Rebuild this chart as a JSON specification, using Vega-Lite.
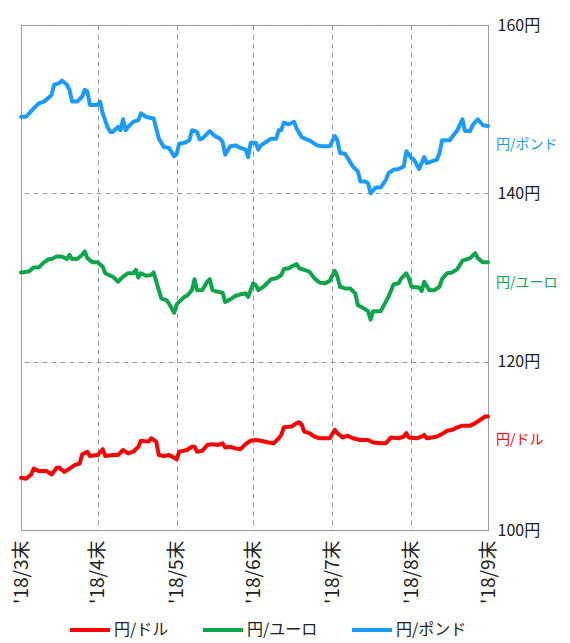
{
  "$schema": "https://vega.github.io/schema/vega-lite/v6.json",
  "width": 467,
  "height": 505,
  "autosize": "none",
  "padding": {"left": 21, "top": 25, "right": 82, "bottom": 113},
  "config": {
    "font": "Noto Sans CJK JP",
    "view": {"stroke": "#a0a0a0", "strokeWidth": 1},
    "axis": {"gridColor": "#999999", "gridDash": [5, 4], "gridWidth": 1, "domain": false, "ticks": false, "labelColor": "#222222", "labelFontSize": 16, "title": null}
  },
  "datasets": {
    "fx": [
      {"series":"円/ポンド","date":"2018-03-31","rate":149.1},{"series":"円/ポンド","date":"2018-04-02","rate":149.1},{"series":"円/ポンド","date":"2018-04-05","rate":150.1},{"series":"円/ポンド","date":"2018-04-07","rate":150.7},{"series":"円/ポンド","date":"2018-04-09","rate":150.9},{"series":"円/ポンド","date":"2018-04-11","rate":151.4},{"series":"円/ポンド","date":"2018-04-12","rate":151.7},{"series":"円/ポンド","date":"2018-04-13","rate":152.9},{"series":"円/ポンド","date":"2018-04-15","rate":153.1},{"series":"円/ポンド","date":"2018-04-16","rate":153.4},{"series":"円/ポンド","date":"2018-04-18","rate":152.9},{"series":"円/ポンド","date":"2018-04-19","rate":152.3},{"series":"円/ポンド","date":"2018-04-20","rate":150.9},{"series":"円/ポンド","date":"2018-04-22","rate":150.9},{"series":"円/ポンド","date":"2018-04-24","rate":151.5},{"series":"円/ポンド","date":"2018-04-25","rate":152.3},{"series":"円/ポンド","date":"2018-04-26","rate":152.1},{"series":"円/ポンド","date":"2018-04-27","rate":150.5},{"series":"円/ポンド","date":"2018-04-30","rate":150.5},{"series":"円/ポンド","date":"2018-05-01","rate":150.9},{"series":"円/ポンド","date":"2018-05-02","rate":149.5},{"series":"円/ポンド","date":"2018-05-04","rate":147.8},{"series":"円/ポンド","date":"2018-05-05","rate":147.3},{"series":"円/ポンド","date":"2018-05-06","rate":147.3},{"series":"円/ポンド","date":"2018-05-08","rate":147.9},{"series":"円/ポンド","date":"2018-05-09","rate":147.5},{"series":"円/ポンド","date":"2018-05-10","rate":148.8},{"series":"円/ポンド","date":"2018-05-11","rate":147.5},{"series":"円/ポンド","date":"2018-05-12","rate":147.9},{"series":"円/ポンド","date":"2018-05-14","rate":148.5},{"series":"円/ポンド","date":"2018-05-16","rate":148.7},{"series":"円/ポンド","date":"2018-05-17","rate":149.5},{"series":"円/ポンド","date":"2018-05-19","rate":149.1},{"series":"円/ポンド","date":"2018-05-20","rate":149.0},{"series":"円/ポンド","date":"2018-05-22","rate":148.9},{"series":"円/ポンド","date":"2018-05-24","rate":146.5},{"series":"円/ポンド","date":"2018-05-26","rate":145.5},{"series":"円/ポンド","date":"2018-05-28","rate":145.4},{"series":"円/ポンド","date":"2018-05-30","rate":144.4},{"series":"円/ポンド","date":"2018-05-31","rate":144.7},{"series":"円/ポンド","date":"2018-06-01","rate":145.9},{"series":"円/ポンド","date":"2018-06-03","rate":146.0},{"series":"円/ポンド","date":"2018-06-05","rate":146.3},{"series":"円/ポンド","date":"2018-06-06","rate":147.5},{"series":"円/ポンド","date":"2018-06-08","rate":147.3},{"series":"円/ポンド","date":"2018-06-09","rate":146.4},{"series":"円/ポンド","date":"2018-06-10","rate":146.5},{"series":"円/ポンド","date":"2018-06-12","rate":147.1},{"series":"円/ポンド","date":"2018-06-13","rate":147.4},{"series":"円/ポンド","date":"2018-06-15","rate":146.8},{"series":"円/ポンド","date":"2018-06-17","rate":146.5},{"series":"円/ポンド","date":"2018-06-18","rate":146.1},{"series":"円/ポンド","date":"2018-06-19","rate":144.6},{"series":"円/ポンド","date":"2018-06-21","rate":145.6},{"series":"円/ポンド","date":"2018-06-23","rate":145.7},{"series":"円/ポンド","date":"2018-06-25","rate":145.4},{"series":"円/ポンド","date":"2018-06-27","rate":145.2},{"series":"円/ポンド","date":"2018-06-28","rate":144.3},{"series":"円/ポンド","date":"2018-06-29","rate":146.0},{"series":"円/ポンド","date":"2018-07-01","rate":146.0},{"series":"円/ポンド","date":"2018-07-02","rate":145.2},{"series":"円/ポンド","date":"2018-07-03","rate":145.7},{"series":"円/ポンド","date":"2018-07-05","rate":146.1},{"series":"円/ポンド","date":"2018-07-07","rate":146.5},{"series":"円/ポンド","date":"2018-07-09","rate":146.5},{"series":"円/ポンド","date":"2018-07-10","rate":147.5},{"series":"円/ポンド","date":"2018-07-11","rate":147.5},{"series":"円/ポンド","date":"2018-07-12","rate":148.4},{"series":"円/ポンド","date":"2018-07-14","rate":148.2},{"series":"円/ポンド","date":"2018-07-16","rate":148.5},{"series":"円/ポンド","date":"2018-07-17","rate":147.7},{"series":"円/ポンド","date":"2018-07-19","rate":146.7},{"series":"円/ポンド","date":"2018-07-21","rate":146.4},{"series":"円/ポンド","date":"2018-07-22","rate":146.3},{"series":"円/ポンド","date":"2018-07-24","rate":145.9},{"series":"円/ポンド","date":"2018-07-25","rate":145.7},{"series":"円/ポンド","date":"2018-07-27","rate":145.6},{"series":"円/ポンド","date":"2018-07-30","rate":145.6},{"series":"円/ポンド","date":"2018-08-01","rate":146.8},{"series":"円/ポンド","date":"2018-08-02","rate":146.3},{"series":"円/ポンド","date":"2018-08-03","rate":144.8},{"series":"円/ポンド","date":"2018-08-05","rate":144.7},{"series":"円/ポンド","date":"2018-08-06","rate":144.2},{"series":"円/ポンド","date":"2018-08-08","rate":143.2},{"series":"円/ポンド","date":"2018-08-10","rate":142.6},{"series":"円/ポンド","date":"2018-08-11","rate":141.4},{"series":"円/ポンド","date":"2018-08-13","rate":141.4},{"series":"円/ポンド","date":"2018-08-14","rate":141.2},{"series":"円/ポンド","date":"2018-08-15","rate":140.0},{"series":"円/ポンド","date":"2018-08-17","rate":140.7},{"series":"円/ポンド","date":"2018-08-19","rate":140.7},{"series":"円/ポンド","date":"2018-08-21","rate":141.6},{"series":"円/ポンド","date":"2018-08-22","rate":142.4},{"series":"円/ポンド","date":"2018-08-24","rate":142.8},{"series":"円/ポンド","date":"2018-08-26","rate":142.9},{"series":"円/ポンド","date":"2018-08-28","rate":143.2},{"series":"円/ポンド","date":"2018-08-29","rate":145.0},{"series":"円/ポンド","date":"2018-08-31","rate":144.2},{"series":"円/ポンド","date":"2018-09-01","rate":144.0},{"series":"円/ポンド","date":"2018-09-03","rate":142.9},{"series":"円/ポンド","date":"2018-09-05","rate":144.3},{"series":"円/ポンド","date":"2018-09-06","rate":143.6},{"series":"円/ポンド","date":"2018-09-08","rate":143.8},{"series":"円/ポンド","date":"2018-09-10","rate":144.0},{"series":"円/ポンド","date":"2018-09-11","rate":144.8},{"series":"円/ポンド","date":"2018-09-12","rate":146.3},{"series":"円/ポンド","date":"2018-09-15","rate":146.3},{"series":"円/ポンド","date":"2018-09-17","rate":147.1},{"series":"円/ポンド","date":"2018-09-18","rate":147.5},{"series":"円/ポンド","date":"2018-09-20","rate":148.8},{"series":"円/ポンド","date":"2018-09-21","rate":147.4},{"series":"円/ポンド","date":"2018-09-23","rate":147.4},{"series":"円/ポンド","date":"2018-09-24","rate":148.1},{"series":"円/ポンド","date":"2018-09-26","rate":148.8},{"series":"円/ポンド","date":"2018-09-28","rate":148.1},{"series":"円/ポンド","date":"2018-09-30","rate":148.0},
      {"series":"円/ユーロ","date":"2018-03-31","rate":130.6},{"series":"円/ユーロ","date":"2018-04-03","rate":130.7},{"series":"円/ユーロ","date":"2018-04-05","rate":131.2},{"series":"円/ユーロ","date":"2018-04-07","rate":131.2},{"series":"円/ユーロ","date":"2018-04-09","rate":131.8},{"series":"円/ユーロ","date":"2018-04-11","rate":132.2},{"series":"円/ユーロ","date":"2018-04-12","rate":132.2},{"series":"円/ユーロ","date":"2018-04-14","rate":132.5},{"series":"円/ユーロ","date":"2018-04-16","rate":132.5},{"series":"円/ユーロ","date":"2018-04-18","rate":132.2},{"series":"円/ユーロ","date":"2018-04-19","rate":132.7},{"series":"円/ユーロ","date":"2018-04-20","rate":132.2},{"series":"円/ユーロ","date":"2018-04-22","rate":132.2},{"series":"円/ユーロ","date":"2018-04-24","rate":132.7},{"series":"円/ユーロ","date":"2018-04-25","rate":133.1},{"series":"円/ユーロ","date":"2018-04-26","rate":132.3},{"series":"円/ユーロ","date":"2018-04-28","rate":131.8},{"series":"円/ユーロ","date":"2018-04-30","rate":131.8},{"series":"円/ユーロ","date":"2018-05-02","rate":131.3},{"series":"円/ユーロ","date":"2018-05-03","rate":130.5},{"series":"円/ユーロ","date":"2018-05-05","rate":130.2},{"series":"円/ユーロ","date":"2018-05-06","rate":130.1},{"series":"円/ユーロ","date":"2018-05-08","rate":129.5},{"series":"円/ユーロ","date":"2018-05-10","rate":130.1},{"series":"円/ユーロ","date":"2018-05-12","rate":130.5},{"series":"円/ユーロ","date":"2018-05-14","rate":130.5},{"series":"円/ユーロ","date":"2018-05-15","rate":130.9},{"series":"円/ユーロ","date":"2018-05-16","rate":130.0},{"series":"円/ユーロ","date":"2018-05-17","rate":130.5},{"series":"円/ユーロ","date":"2018-05-19","rate":130.2},{"series":"円/ユーロ","date":"2018-05-21","rate":130.3},{"series":"円/ユーロ","date":"2018-05-22","rate":130.6},{"series":"円/ユーロ","date":"2018-05-24","rate":128.5},{"series":"円/ユーロ","date":"2018-05-25","rate":127.5},{"series":"円/ユーロ","date":"2018-05-27","rate":127.3},{"series":"円/ユーロ","date":"2018-05-28","rate":126.9},{"series":"円/ユーロ","date":"2018-05-30","rate":125.8},{"series":"円/ユーロ","date":"2018-05-31","rate":126.8},{"series":"円/ユーロ","date":"2018-06-03","rate":127.7},{"series":"円/ユーロ","date":"2018-06-04","rate":127.8},{"series":"円/ユーロ","date":"2018-06-06","rate":128.5},{"series":"円/ユーロ","date":"2018-06-07","rate":129.8},{"series":"円/ユーロ","date":"2018-06-08","rate":128.5},{"series":"円/ユーロ","date":"2018-06-10","rate":128.5},{"series":"円/ユーロ","date":"2018-06-12","rate":129.5},{"series":"円/ユーロ","date":"2018-06-13","rate":129.8},{"series":"円/ユーロ","date":"2018-06-14","rate":128.5},{"series":"円/ユーロ","date":"2018-06-16","rate":128.3},{"series":"円/ユーロ","date":"2018-06-18","rate":128.2},{"series":"円/ユーロ","date":"2018-06-19","rate":127.1},{"series":"円/ユーロ","date":"2018-06-21","rate":127.4},{"series":"円/ユーロ","date":"2018-06-23","rate":127.8},{"series":"円/ユーロ","date":"2018-06-25","rate":128.0},{"series":"円/ユーロ","date":"2018-06-27","rate":128.1},{"series":"円/ユーロ","date":"2018-06-28","rate":127.7},{"series":"円/ユーロ","date":"2018-06-30","rate":129.3},{"series":"円/ユーロ","date":"2018-07-01","rate":129.1},{"series":"円/ユーロ","date":"2018-07-02","rate":128.5},{"series":"円/ユーロ","date":"2018-07-04","rate":128.9},{"series":"円/ユーロ","date":"2018-07-06","rate":129.5},{"series":"円/ユーロ","date":"2018-07-07","rate":129.8},{"series":"円/ユーロ","date":"2018-07-09","rate":129.9},{"series":"円/ユーロ","date":"2018-07-11","rate":130.3},{"series":"円/ユーロ","date":"2018-07-12","rate":131.0},{"series":"円/ユーロ","date":"2018-07-14","rate":131.1},{"series":"円/ユーロ","date":"2018-07-15","rate":131.3},{"series":"円/ユーロ","date":"2018-07-17","rate":131.6},{"series":"円/ユーロ","date":"2018-07-18","rate":131.1},{"series":"円/ユーロ","date":"2018-07-20","rate":130.9},{"series":"円/ユーロ","date":"2018-07-22","rate":130.7},{"series":"円/ユーロ","date":"2018-07-24","rate":129.9},{"series":"円/ユーロ","date":"2018-07-26","rate":129.4},{"series":"円/ユーロ","date":"2018-07-28","rate":129.3},{"series":"円/ユーロ","date":"2018-07-30","rate":129.6},{"series":"円/ユーロ","date":"2018-08-01","rate":130.8},{"series":"円/ユーロ","date":"2018-08-02","rate":130.1},{"series":"円/ユーロ","date":"2018-08-03","rate":128.9},{"series":"円/ユーロ","date":"2018-08-05","rate":128.7},{"series":"円/ユーロ","date":"2018-08-07","rate":128.7},{"series":"円/ユーロ","date":"2018-08-09","rate":128.1},{"series":"円/ユーロ","date":"2018-08-10","rate":126.7},{"series":"円/ユーロ","date":"2018-08-12","rate":126.4},{"series":"円/ユーロ","date":"2018-08-14","rate":126.0},{"series":"円/ユーロ","date":"2018-08-15","rate":125.0},{"series":"円/ユーロ","date":"2018-08-16","rate":126.0},{"series":"円/ユーロ","date":"2018-08-19","rate":126.0},{"series":"円/ユーロ","date":"2018-08-20","rate":126.6},{"series":"円/ユーロ","date":"2018-08-22","rate":127.7},{"series":"円/ユーロ","date":"2018-08-24","rate":129.2},{"series":"円/ユーロ","date":"2018-08-26","rate":129.3},{"series":"円/ユーロ","date":"2018-08-27","rate":129.9},{"series":"円/ユーロ","date":"2018-08-29","rate":130.5},{"series":"円/ユーロ","date":"2018-08-30","rate":129.9},{"series":"円/ユーロ","date":"2018-08-31","rate":128.9},{"series":"円/ユーロ","date":"2018-09-03","rate":128.8},{"series":"円/ユーロ","date":"2018-09-04","rate":128.4},{"series":"円/ユーロ","date":"2018-09-05","rate":129.5},{"series":"円/ユーロ","date":"2018-09-07","rate":128.5},{"series":"円/ユーロ","date":"2018-09-09","rate":128.5},{"series":"円/ユーロ","date":"2018-09-11","rate":128.9},{"series":"円/ユーロ","date":"2018-09-12","rate":129.8},{"series":"円/ユーロ","date":"2018-09-14","rate":130.5},{"series":"円/ユーロ","date":"2018-09-16","rate":130.6},{"series":"円/ユーロ","date":"2018-09-18","rate":131.0},{"series":"円/ユーロ","date":"2018-09-19","rate":131.5},{"series":"円/ユーロ","date":"2018-09-20","rate":132.0},{"series":"円/ユーロ","date":"2018-09-22","rate":132.2},{"series":"円/ユーロ","date":"2018-09-23","rate":132.3},{"series":"円/ユーロ","date":"2018-09-25","rate":132.9},{"series":"円/ユーロ","date":"2018-09-26","rate":132.3},{"series":"円/ユーロ","date":"2018-09-28","rate":131.8},{"series":"円/ユーロ","date":"2018-09-30","rate":131.8},
      {"series":"円/ドル","date":"2018-03-31","rate":106.2},{"series":"円/ドル","date":"2018-04-02","rate":106.1},{"series":"円/ドル","date":"2018-04-04","rate":106.6},{"series":"円/ドル","date":"2018-04-05","rate":107.3},{"series":"円/ドル","date":"2018-04-07","rate":107.0},{"series":"円/ドル","date":"2018-04-10","rate":107.0},{"series":"円/ドル","date":"2018-04-12","rate":106.6},{"series":"円/ドル","date":"2018-04-14","rate":107.4},{"series":"円/ドル","date":"2018-04-15","rate":107.4},{"series":"円/ドル","date":"2018-04-17","rate":106.9},{"series":"円/ドル","date":"2018-04-19","rate":107.3},{"series":"円/ドル","date":"2018-04-21","rate":107.7},{"series":"円/ドル","date":"2018-04-23","rate":107.9},{"series":"円/ドル","date":"2018-04-24","rate":109.0},{"series":"円/ドル","date":"2018-04-26","rate":109.3},{"series":"円/ドル","date":"2018-04-27","rate":108.8},{"series":"円/ドル","date":"2018-04-30","rate":108.9},{"series":"円/ドル","date":"2018-05-02","rate":109.6},{"series":"円/ドル","date":"2018-05-03","rate":108.8},{"series":"円/ドル","date":"2018-05-06","rate":108.9},{"series":"円/ドル","date":"2018-05-08","rate":108.9},{"series":"円/ドル","date":"2018-05-10","rate":109.5},{"series":"円/ドル","date":"2018-05-12","rate":109.1},{"series":"円/ドル","date":"2018-05-14","rate":109.3},{"series":"円/ドル","date":"2018-05-16","rate":109.9},{"series":"円/ドル","date":"2018-05-17","rate":110.6},{"series":"円/ドル","date":"2018-05-20","rate":110.5},{"series":"円/ドル","date":"2018-05-21","rate":110.9},{"series":"円/ドル","date":"2018-05-23","rate":110.5},{"series":"円/ドル","date":"2018-05-24","rate":108.9},{"series":"円/ドル","date":"2018-05-26","rate":108.8},{"series":"円/ドル","date":"2018-05-28","rate":108.9},{"series":"円/ドル","date":"2018-05-30","rate":108.6},{"series":"円/ドル","date":"2018-05-31","rate":108.4},{"series":"円/ドル","date":"2018-06-01","rate":109.3},{"series":"円/ドル","date":"2018-06-04","rate":109.5},{"series":"円/ドル","date":"2018-06-06","rate":109.9},{"series":"円/ドル","date":"2018-06-07","rate":109.9},{"series":"円/ドル","date":"2018-06-08","rate":109.3},{"series":"円/ドル","date":"2018-06-10","rate":109.4},{"series":"円/ドル","date":"2018-06-12","rate":110.1},{"series":"円/ドル","date":"2018-06-14","rate":110.2},{"series":"円/ドル","date":"2018-06-16","rate":110.1},{"series":"円/ドル","date":"2018-06-18","rate":110.3},{"series":"円/ドル","date":"2018-06-19","rate":109.8},{"series":"円/ドル","date":"2018-06-21","rate":109.9},{"series":"円/ドル","date":"2018-06-23","rate":109.7},{"series":"円/ドル","date":"2018-06-25","rate":109.6},{"series":"円/ドル","date":"2018-06-27","rate":110.2},{"series":"円/ドル","date":"2018-06-29","rate":110.6},{"series":"円/ドル","date":"2018-07-01","rate":110.7},{"series":"円/ドル","date":"2018-07-03","rate":110.6},{"series":"円/ドル","date":"2018-07-06","rate":110.4},{"series":"円/ドル","date":"2018-07-08","rate":110.3},{"series":"円/ドル","date":"2018-07-10","rate":110.9},{"series":"円/ドル","date":"2018-07-11","rate":111.3},{"series":"円/ドル","date":"2018-07-12","rate":112.2},{"series":"円/ドル","date":"2018-07-15","rate":112.3},{"series":"円/ドル","date":"2018-07-17","rate":112.7},{"series":"円/ドル","date":"2018-07-18","rate":112.8},{"series":"円/ドル","date":"2018-07-19","rate":112.5},{"series":"円/ドル","date":"2018-07-20","rate":111.7},{"series":"円/ドル","date":"2018-07-22","rate":111.5},{"series":"円/ドル","date":"2018-07-24","rate":111.1},{"series":"円/ドル","date":"2018-07-26","rate":110.9},{"series":"円/ドル","date":"2018-07-28","rate":110.9},{"series":"円/ドル","date":"2018-07-30","rate":110.9},{"series":"円/ドル","date":"2018-08-01","rate":111.9},{"series":"円/ドル","date":"2018-08-02","rate":111.5},{"series":"円/ドル","date":"2018-08-04","rate":111.0},{"series":"円/ドル","date":"2018-08-06","rate":111.2},{"series":"円/ドル","date":"2018-08-08","rate":110.9},{"series":"円/ドル","date":"2018-08-11","rate":110.7},{"series":"円/ドル","date":"2018-08-14","rate":110.7},{"series":"円/ドル","date":"2018-08-16","rate":110.4},{"series":"円/ドル","date":"2018-08-19","rate":110.3},{"series":"円/ドル","date":"2018-08-21","rate":110.3},{"series":"円/ドル","date":"2018-08-23","rate":111.0},{"series":"円/ドル","date":"2018-08-26","rate":110.9},{"series":"円/ドル","date":"2018-08-28","rate":111.1},{"series":"円/ドル","date":"2018-08-29","rate":111.5},{"series":"円/ドル","date":"2018-08-30","rate":111.0},{"series":"円/ドル","date":"2018-09-02","rate":110.9},{"series":"円/ドル","date":"2018-09-04","rate":111.1},{"series":"円/ドル","date":"2018-09-05","rate":111.3},{"series":"円/ドル","date":"2018-09-06","rate":110.9},{"series":"円/ドル","date":"2018-09-08","rate":111.0},{"series":"円/ドル","date":"2018-09-10","rate":111.1},{"series":"円/ドル","date":"2018-09-12","rate":111.4},{"series":"円/ドル","date":"2018-09-14","rate":111.8},{"series":"円/ドル","date":"2018-09-16","rate":111.9},{"series":"円/ドル","date":"2018-09-18","rate":112.2},{"series":"円/ドル","date":"2018-09-20","rate":112.4},{"series":"円/ドル","date":"2018-09-23","rate":112.4},{"series":"円/ドル","date":"2018-09-25","rate":112.7},{"series":"円/ドル","date":"2018-09-27","rate":113.1},{"series":"円/ドル","date":"2018-09-29","rate":113.5},{"series":"円/ドル","date":"2018-09-30","rate":113.5}
    ],
    "labels": [
      {"series":"円/ポンド","date":"2018-09-30","rate":145.7},
      {"series":"円/ユーロ","date":"2018-09-30","rate":129.3},
      {"series":"円/ドル","date":"2018-09-30","rate":110.7}
    ]
  },
  "layer": [
    {
      "data": {"name": "fx"},
      "mark": {"type": "line", "strokeWidth": 4, "strokeJoin": "round", "strokeCap": "round"},
      "encoding": {
        "x": {
          "field": "date", "type": "temporal",
          "scale": {"type": "utc", "domain": [{"year": 2018, "month": 3, "date": 31, "utc": true}, {"year": 2018, "month": 9, "date": 30, "utc": true}]},
          "axis": {
            "values": [
              {"year": 2018, "month": 3, "date": 31, "utc": true},
              {"year": 2018, "month": 4, "date": 30, "utc": true},
              {"year": 2018, "month": 5, "date": 31, "utc": true},
              {"year": 2018, "month": 6, "date": 30, "utc": true},
              {"year": 2018, "month": 7, "date": 31, "utc": true},
              {"year": 2018, "month": 8, "date": 31, "utc": true},
              {"year": 2018, "month": 9, "date": 30, "utc": true}
            ],
            "labelExpr": "\"'18/\" + (utcmonth(datum.value) + 1) + \"末\"",
            "labelAngle": -90,
            "labelPadding": 10,
            "labelFontSize": 19,
            "grid": true
          }
        },
        "y": {
          "field": "rate", "type": "quantitative",
          "scale": {"domain": [100, 160], "nice": false, "zero": false},
          "axis": {"orient": "right", "values": [100, 120, 140, 160], "labelExpr": "datum.value + '円'", "labelPadding": 9, "grid": true}
        },
        "color": {
          "field": "series", "type": "nominal",
          "scale": {"domain": ["円/ドル", "円/ユーロ", "円/ポンド"], "range": ["#ff0000", "#0ea64b", "#1a9cff"]},
          "legend": {
            "title": null, "orient": "none", "legendX": 47, "legendY": 583, "direction": "horizontal",
            "symbolType": "stroke", "symbolSize": 1600, "symbolStrokeWidth": 4,
            "labelFontSize": 16, "labelColor": "#222222", "labelOffset": 2, "columnPadding": 26
          }
        }
      }
    },
    {
      "data": {"name": "labels"},
      "mark": {"type": "text", "align": "left", "baseline": "middle", "dx": 8, "fontSize": 14},
      "encoding": {
        "x": {"field": "date", "type": "temporal"},
        "y": {"field": "rate", "type": "quantitative"},
        "text": {"field": "series"},
        "color": {"field": "series", "type": "nominal", "legend": null}
      }
    }
  ],
  "resolve": {"legend": {"color": "independent"}}
}
